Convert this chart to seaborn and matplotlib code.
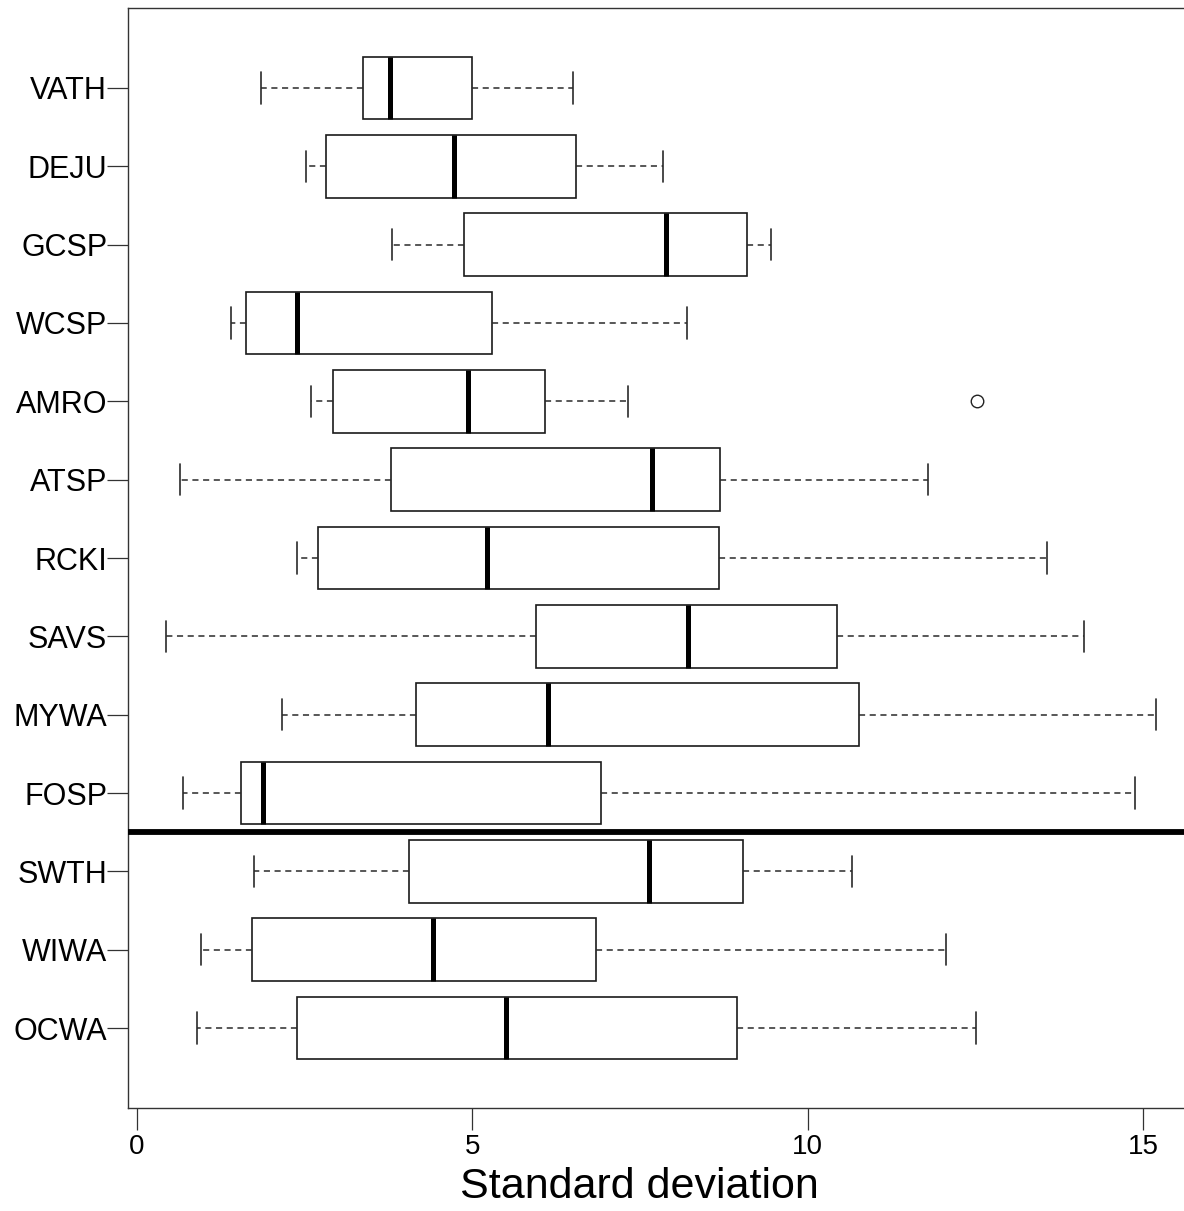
import numpy as np
import pandas as pd
import matplotlib
matplotlib.use("Agg")
import matplotlib.pyplot as plt
import seaborn as sns

# ---- data (box-plot summary statistics) ----
species = ["VATH", "DEJU", "GCSP", "WCSP", "AMRO", "ATSP", "RCKI",
           "SAVS", "MYWA", "FOSP", "SWTH", "WIWA", "OCWA"]
whisk_lo = [1.85, 2.52, 3.80, 1.41, 2.60, 0.65, 2.38, 0.44, 2.17, 0.68, 1.75, 0.95, 0.90]
q1       = [3.37, 2.82, 4.88, 1.62, 2.92, 3.79, 2.70, 5.95, 4.16, 1.55, 4.05, 1.72, 2.39]
median   = [3.77, 4.73, 7.89, 2.39, 4.93, 7.68, 5.22, 8.21, 6.13, 1.88, 7.64, 4.41, 5.50]
q3       = [4.99, 6.54, 9.10, 5.30, 6.08, 8.70, 8.68, 10.44, 10.76, 6.92, 9.04, 6.85, 8.95]
whisk_hi = [6.50, 7.84, 9.46, 8.20, 7.32, 11.79, 13.57, 14.12, 15.19, 14.88, 10.66, 12.07, 12.51]
outliers = {"AMRO": [12.52]}
x_ticks = [0, 5, 10, 15]
x_label = "Standard deviation"

# Build a small sample per species whose box-plot statistics equal the values above
rows = []
for i, sp in enumerate(species):
    vals = [whisk_lo[i], q1[i], q1[i], median[i], median[i], q3[i], q3[i], whisk_hi[i]]
    vals += outliers.get(sp, [])
    for v in vals:
        rows.append({"species": sp, "sd": v})
df = pd.DataFrame(rows)

sns.set_style("white")
plt.rcParams["font.family"] = ["Liberation Sans", "DejaVu Sans"]

W, H = 1184, 1211
fig = plt.figure(figsize=(W / 100, H / 100), dpi=100)
left_px, right_px, top_px, bottom_px = 128, 1192, 8, 1108
ax = fig.add_axes([left_px / W, 1 - bottom_px / H,
                   (right_px - left_px) / W, (bottom_px - top_px) / H])

edge = "#1a1a1a"
sns.boxplot(
    data=df, x="sd", y="species", order=species, orient="h",
    width=0.8, whis=1.5, color="white", linecolor=edge, linewidth=1.2,
    medianprops=dict(color="black", linewidth=3.6, solid_capstyle="butt"),
    whiskerprops=dict(color="#2a2a2a", linewidth=1.1, linestyle=(0, (4, 3))),
    capprops=dict(color="#2a2a2a", linewidth=1.2),
    flierprops=dict(marker="o", markersize=9, markerfacecolor="none",
                    markeredgecolor="#222222", markeredgewidth=1.0),
    ax=ax,
)

# separator between the two groups of species
ax.axhline(species.index("FOSP") + 0.5, color="black", linewidth=4.2, zorder=5)

x0 = (left_px - 136.9) / 67.07
x1 = (right_px - 136.9) / 67.07
ax.set_xlim(x0, x1)
ax.set_ylim(len(species) - 1 + 1.02, -1.02)
ax.set_xticks(x_ticks)
ax.set_xticklabels([str(t) for t in x_ticks])

ax.set_ylabel("")
ax.set_xlabel(x_label, fontsize=31, color="black")
ax.xaxis.set_label_coords(0.481, -0.054)

ax.tick_params(axis="y", which="both", left=True, length=15, width=0.9,
               color="#333333", labelsize=22, pad=0, labelcolor="black")
ax.tick_params(axis="x", which="both", bottom=True, length=16, width=0.9,
               color="#333333", labelsize=20, pad=3, labelcolor="black")

for side in ["top", "right", "bottom", "left"]:
    ax.spines[side].set_visible(True)
    ax.spines[side].set_color("#333333")
    ax.spines[side].set_linewidth(1.0)

fig.savefig("out.png", dpi=100, facecolor="white")
